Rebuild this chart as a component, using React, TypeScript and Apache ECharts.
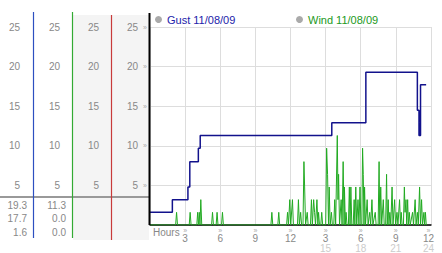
import React, { useEffect, useRef } from 'react';
import * as echarts from 'echarts';

const gustName = 'Gust 11/08/09';
const windName = 'Wind 11/08/09';

const gustHours = [0, 1.91, 3.24, 3.4, 4.13, 4.29, 15.53, 18.44, 22.84, 22.98, 23.11, 23.59];
const gustSpeeds = [1.6, 3.2, 4.8, 8.0, 9.7, 11.3, 12.9, 19.3, 14.5, 11.3, 17.7, 17.7];

const windHours = [
  0, 2.19, 2.27, 2.35, 3.35, 3.43, 3.51, 4.0, 4.07, 4.14, 4.21, 4.27, 4.34, 4.42,
  5.26, 5.34, 5.42, 5.65, 5.73, 5.81, 6.11, 6.19, 6.27, 10.33, 10.41, 10.49,
  10.92, 11.0, 11.08, 11.67, 11.75, 11.83, 11.94, 12.02, 12.17, 12.25,
  12.6, 12.68, 12.76, 12.87, 12.95, 13.07, 13.15, 13.21, 13.29, 13.43, 13.51,
  13.71, 13.79, 13.87, 13.98, 14.06, 14.14, 14.26, 14.34, 14.4, 14.48, 14.59, 14.67, 14.75,
  15.01, 15.09, 15.17, 15.25, 15.31, 15.39, 15.5, 15.58, 15.7, 15.78, 15.86,
  15.92, 16.0, 16.06, 16.11, 16.19, 16.33, 16.41, 16.5, 16.58, 16.61, 16.69, 16.75, 16.83,
  16.95, 17.03, 17.09, 17.16, 17.24, 17.36, 17.44, 17.5, 17.58, 17.66, 17.77, 17.85, 17.94, 18.02,
  18.1, 18.16, 18.22, 18.28, 18.33, 18.41, 18.55, 18.63, 18.77, 18.85, 18.96, 19.04, 19.24, 19.32,
  19.49, 19.57, 19.63, 19.71, 19.79, 19.93, 20.01, 20.13, 20.21, 20.27, 20.35, 20.41, 20.49, 20.57,
  20.68, 20.76, 20.9, 20.98, 21.1, 21.18, 21.32, 21.4, 21.46, 21.54, 21.65, 21.73, 21.79, 21.87, 21.93,
  22.01, 22.07, 22.15, 22.23, 22.43, 22.51, 22.65, 22.73, 22.84, 22.92, 23.03, 23.11, 23.2, 23.28,
  23.4, 23.46, 23.53, 23.6,
];
const windSpeeds = [
  0, 0, 1.6, 0, 0, 1.6, 0, 0, 1.6, 0, 1.6, 0, 3.2, 0,
  0, 1.6, 0, 0, 1.6, 0, 0, 1.6, 0, 0, 1.6, 0,
  0, 1.6, 0, 0, 1.6, 0, 3.2, 0, 3.2, 0,
  0, 3.2, 0, 1.6, 0, 0, 8.0, 4.8, 0, 1.6, 0,
  0, 3.2, 0, 3.2, 1.6, 0, 3.2, 0, 1.6, 0, 0, 1.6, 0,
  0, 9.7, 6.4, 0, 4.8, 0, 1.6, 0, 0, 3.2, 0,
  0, 11.3, 3.2, 6.4, 0, 3.2, 0, 8.0, 0, 4.8, 0, 1.6, 0,
  0, 4.8, 0, 4.8, 0, 0, 3.2, 0, 4.8, 0, 3.2, 0, 4.8, 0,
  0, 9.7, 6.4, 0, 4.8, 0, 3.2, 0, 1.6, 0, 3.2, 0, 1.6, 0,
  0, 8.0, 0, 4.8, 0, 3.2, 0, 0, 6.4, 0, 3.2, 0, 1.6, 0,
  4.8, 0, 3.2, 0, 1.6, 0, 3.2, 0, 1.6, 0, 0, 4.8, 1.6, 3.2, 0,
  3.2, 0, 1.6, 0, 1.6, 0, 3.2, 0, 1.6, 0, 4.8, 0, 3.2, 0,
  1.6, 0, 1.6, 0,
];

// max, last, min
const gustStats = [19.3, 17.7, 1.6];
const windStats = [11.3, 0.0, 0.0];

const FONT = '"Liberation Sans", Arial, sans-serif';
const LABEL = '#888888';

export default function App() {
  const ref = useRef<HTMLDivElement>(null);
  useEffect(() => {
    if (!ref.current) return;
    const chart = echarts.init(ref.current, undefined, { renderer: 'svg' });
    const yBase = {
      type: 'value',
      min: 0,
      max: 25,
      interval: 5,
      position: 'left',
      axisLine: { show: false },
      axisTick: { show: false },
      splitLine: { show: false },
      axisLabel: { showMinLabel: false, margin: 2, color: LABEL, fontSize: 10, fontFamily: FONT },
    };
    const statText = (vals: number[], x: number) =>
      vals.map((v, i) => ({
        type: 'text',
        x,
        y: 205 + i * 13.5,
        style: { text: v.toFixed(1), fill: LABEL, font: `10px ${FONT}`, align: 'right', verticalAlign: 'middle' },
      }));
    chart.setOption({
      animation: false,
      backgroundColor: '#ffffff',
      grid: { left: 150, right: 3, top: 27, bottom: 28, containLabel: false },
      legend: [
        {
          data: [{ name: gustName, itemStyle: { color: '#aaaaaa' } }],
          left: 155,
          top: 14,
          padding: 0,
          icon: 'circle',
          itemWidth: 7,
          itemHeight: 7,
          textStyle: { color: '#2222aa', fontSize: 11, fontFamily: FONT },
          selectedMode: false,
        },
        {
          data: [{ name: windName, itemStyle: { color: '#aaaaaa' } }],
          left: 296,
          top: 14,
          padding: 0,
          icon: 'circle',
          itemWidth: 7,
          itemHeight: 7,
          textStyle: { color: '#229922', fontSize: 11, fontFamily: FONT },
          selectedMode: false,
        },
      ],
      xAxis: {
        type: 'value',
        min: 0,
        max: 24,
        interval: 3,
        axisLine: { show: true, lineStyle: { color: '#000000', width: 1.5 } },
        axisTick: { show: false },
        splitLine: { show: true, lineStyle: { color: '#dddddd', width: 1 } },
        axisLabel: {
          margin: 2,
          showMinLabel: false,
          formatter: (v: number) => {
            if (v === 0) return '';
            const a = v > 12 ? v - 12 : v;
            const b = v > 12 ? String(v) : '';
            if (v === 24) return `{t2|»}\n{a2|${a}}\n{b2|${b}}`;
            return `{t|»}\n{a|${a}}\n{b|${b}}`;
          },
          rich: {
            t: { color: '#aaaaaa', fontSize: 7, lineHeight: 6, fontFamily: FONT },
            a: { color: LABEL, fontSize: 10, lineHeight: 10, fontFamily: FONT },
            b: { color: '#cccccc', fontSize: 10, lineHeight: 10, fontFamily: FONT },
            t2: { color: '#aaaaaa', fontSize: 7, lineHeight: 6, fontFamily: FONT, padding: [0, 5, 0, 0] },
            a2: { color: LABEL, fontSize: 10, lineHeight: 10, fontFamily: FONT, padding: [0, 5, 0, 0] },
            b2: { color: '#cccccc', fontSize: 10, lineHeight: 10, fontFamily: FONT, padding: [0, 5, 0, 0] },
          },
        },
      },
      yAxis: [
        {
          ...yBase,
          offset: 0,
          splitLine: { show: true, lineStyle: { color: '#dddddd', width: 1 } },
          axisLabel: {
            showMinLabel: false,
            margin: 3,
            formatter: (v: number) => `{v|${v}}{m|»}`,
            rich: {
              v: { color: LABEL, fontSize: 10, fontFamily: FONT },
              m: { color: '#aaaaaa', fontSize: 7, fontFamily: FONT, padding: [0, 0, 0, 5] },
            },
          },
        },
        { ...yBase, offset: 49 },
        { ...yBase, offset: 88 },
        { ...yBase, offset: 128 },
      ],
      series: [
        {
          name: gustName,
          type: 'line',
          step: 'end',
          yAxisIndex: 0,
          showSymbol: false,
          symbol: 'none',
          data: gustHours.map((h, i) => [h, gustSpeeds[i]]),
          lineStyle: { color: '#12128c', width: 1.5 },
          itemStyle: { color: '#12128c' },
          z: 3,
        },
        {
          name: windName,
          type: 'line',
          yAxisIndex: 0,
          showSymbol: false,
          symbol: 'none',
          data: windHours.map((h, i) => [h, windSpeeds[i]]),
          lineStyle: { color: '#22aa22', width: 1 },
          itemStyle: { color: '#22aa22' },
          z: 2,
        },
      ],
      graphic: [
        { type: 'rect', z: -10, shape: { x: 73, y: 15, width: 38, height: 225 }, style: { fill: '#f4f4f4' } },
        { type: 'rect', z: -10, shape: { x: 112, y: 15, width: 37, height: 225 }, style: { fill: '#f4f4f4' } },
        { type: 'line', z: 5, shape: { x1: 0, y1: 197, x2: 149, y2: 197 }, style: { stroke: '#999999', lineWidth: 2 } },
        { type: 'line', z: 6, shape: { x1: 33.5, y1: 12, x2: 33.5, y2: 238 }, style: { stroke: '#2d4fc0', lineWidth: 1.2 } },
        { type: 'line', z: 6, shape: { x1: 72.5, y1: 12, x2: 72.5, y2: 238 }, style: { stroke: '#33aa33', lineWidth: 1.2 } },
        { type: 'line', z: 6, shape: { x1: 111.5, y1: 15, x2: 111.5, y2: 240 }, style: { stroke: '#c83a3a', lineWidth: 1.2 } },
        { type: 'line', z: 6, shape: { x1: 149.5, y1: 13, x2: 149.5, y2: 225 }, style: { stroke: '#000000', lineWidth: 2 } },
        ...statText(gustStats, 27),
        ...statText(windStats, 66),
        {
          type: 'text',
          x: 153,
          y: 232,
          style: { text: 'Hours', fill: LABEL, font: `10px ${FONT}`, align: 'left', verticalAlign: 'middle' },
        },
      ],
    });
    return () => chart.dispose();
  }, []);
  return (
    <div
      ref={ref}
      style={{ position: 'absolute', left: 0, top: 0, width: 442, height: 253, background: '#fff' }}
    />
  );
}
